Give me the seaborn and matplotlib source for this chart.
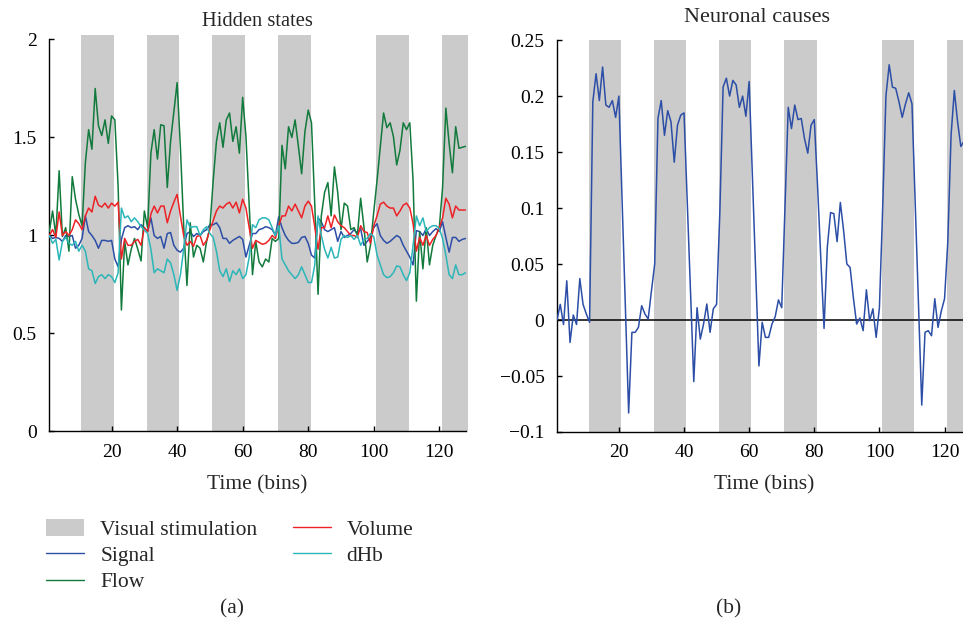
import numpy as np
import matplotlib
matplotlib.use("Agg")
import matplotlib.pyplot as plt
import seaborn as sns
from matplotlib.patches import Patch
from matplotlib.lines import Line2D

# ---------------- data ----------------
bins = np.arange(1, 129)

stim_bins = np.array(list(range(11, 21)) + list(range(31, 41)) + list(range(51, 61)) +
                     list(range(71, 81)) + list(range(101, 111)) + list(range(121, 129)))

flow = [1.02, 1.125, 1.0, 1.33, 0.995, 1.04, 0.92, 1.30, 1.185, 1.107,
        1.05, 1.37, 1.54, 1.44, 1.75, 1.56, 1.51, 1.59, 1.47, 1.61,
        1.59, 1.25, 0.62, 0.97, 0.85, 0.93, 0.985, 0.93, 0.87, 1.125,
        1.04, 1.42, 1.54, 1.39, 1.565, 1.56, 1.245, 1.48, 1.63, 1.78,
        1.45, 1.05, 0.745, 1.065, 0.89, 0.95, 0.935, 0.865, 0.97, 1.04,
        1.28, 1.48, 1.575, 1.45, 1.59, 1.625, 1.48, 1.555, 1.42, 1.705,
        1.505, 1.15, 0.80, 0.97, 0.865, 0.84, 0.88, 0.865, 0.985, 0.97,
        0.985, 1.46, 1.34, 1.555, 1.5, 1.59, 1.455, 1.315, 1.53, 1.64,
        1.575, 1.16, 0.70, 1.1, 1.22, 1.27, 1.1, 1.35, 1.22, 1.03,
        1.165, 1.15, 1.03, 1.04, 1.0, 1.19, 1.045, 0.865, 0.95, 1.12,
        1.28, 1.45, 1.625, 1.55, 1.575, 1.505, 1.36, 1.435, 1.575, 1.54,
        1.575, 1.28, 0.665, 1.02, 0.83, 1.04, 0.85, 0.95, 1.0, 1.04,
        1.245, 1.65, 1.47, 1.32, 1.555, 1.445, 1.45, 1.455]

volume = [1.0, 1.03, 0.99, 1.12, 1.0, 1.02, 1.0, 1.03, 1.08, 1.06,
          1.03, 1.1, 1.14, 1.12, 1.2, 1.155, 1.145, 1.165, 1.14, 1.165,
          1.15, 1.17, 0.88, 0.985, 0.95, 0.95, 0.97, 0.98, 0.95, 1.04,
          1.02, 1.11, 1.15, 1.115, 1.15, 1.15, 1.065, 1.125, 1.17, 1.21,
          1.1, 1.0, 0.95, 0.97, 0.945, 0.995, 1.0, 0.95, 0.975, 1.03,
          1.075, 1.125, 1.15, 1.14, 1.16, 1.17, 1.14, 1.17, 1.115, 1.185,
          1.14, 1.04, 0.935, 0.975, 0.965, 0.955, 0.96, 0.975, 1.0, 0.985,
          1.05, 1.1, 1.1, 1.15, 1.125, 1.16, 1.125, 1.09, 1.15, 1.175,
          1.15, 1.045, 0.93, 1.04, 1.04, 1.1, 1.04, 1.105, 1.07, 1.05,
          1.04, 1.02, 1.0, 1.0, 0.99, 1.05, 1.02, 1.015, 0.96, 1.05,
          1.1, 1.16, 1.17, 1.15, 1.14, 1.14, 1.1, 1.125, 1.155, 1.165,
          1.14, 1.06, 0.92, 0.99, 0.95, 1.0, 0.95, 0.98, 1.0, 1.04,
          1.09, 1.19, 1.16, 1.09, 1.15, 1.13, 1.13, 1.13]

signal = [1.0, 0.985, 0.99, 0.985, 0.97, 1.0, 0.995, 1.0, 0.935, 0.95,
          0.985, 1.1, 1.02, 1.0, 0.975, 0.935, 0.975, 0.975, 0.97, 0.975,
          0.88, 0.84, 0.98, 1.04, 1.05, 1.04, 1.045, 1.03, 1.055, 1.04,
          1.02, 1.09, 1.0, 0.985, 0.995, 0.935, 1.01, 1.015, 0.95, 0.925,
          0.915, 0.935, 1.01, 1.02, 0.995, 1.01, 1.0, 1.02, 1.03, 1.055,
          1.055, 1.065, 1.04, 0.985, 0.985, 0.96, 0.975, 0.985, 0.995, 0.98,
          0.89, 0.95, 1.01, 1.01, 1.03, 1.035, 1.045, 1.04, 1.03, 1.0,
          1.095, 1.04, 1.0, 0.975, 0.96, 0.96, 0.965, 0.99, 0.995, 0.96,
          0.9, 0.885, 1.09, 1.07, 1.03, 1.02, 1.03, 1.04, 0.97, 1.02,
          0.99, 1.0, 1.01, 1.03, 1.01, 1.035, 0.95, 0.97, 0.99, 1.04,
          1.06, 1.0, 0.975, 0.96, 0.97, 0.985, 1.0, 0.99, 0.95, 0.92,
          0.89, 0.85, 1.025, 1.02, 1.0, 1.035, 1.0, 1.02, 1.035, 1.02,
          1.07, 0.99, 0.915, 0.99, 0.99, 0.97, 0.98, 0.985]

dhb = [1.0, 0.96, 0.98, 0.875, 0.97, 0.99, 0.96, 0.95, 0.97, 0.92,
       0.95, 0.92, 0.83, 0.82, 0.755, 0.79, 0.8, 0.78, 0.8, 0.79,
       0.76, 0.81, 1.14, 1.09, 1.1, 1.07, 1.09, 1.07, 1.045, 1.03,
       1.01, 0.93, 0.81, 0.83, 0.82, 0.81, 0.88, 0.86, 0.8, 0.72,
       0.8, 0.93, 1.08, 1.04, 1.045, 1.045, 1.0, 1.03, 1.045, 1.01,
       0.99, 0.92, 0.82, 0.79, 0.83, 0.765, 0.82, 0.8, 0.83, 0.78,
       0.8, 0.89, 1.055, 1.04, 1.08, 1.09, 1.09, 1.08, 1.04, 1.0,
       1.05, 0.88, 0.85, 0.82, 0.8, 0.78, 0.8, 0.84, 0.8, 0.76,
       0.76, 0.85, 1.1, 1.0, 0.93, 0.885, 0.94, 0.885, 0.89, 0.98,
       1.0, 0.99, 1.0, 0.98, 1.0, 0.95, 0.98, 0.985, 1.01, 0.995,
       0.9, 0.85, 0.8, 0.785, 0.79, 0.81, 0.845, 0.84, 0.8, 0.77,
       0.81, 0.95, 1.1, 1.05, 1.09, 1.02, 1.04, 1.05, 1.05, 1.035,
       0.985, 0.9, 0.8, 0.78, 0.85, 0.8, 0.8, 0.81]

neuronal = [0.0, 0.014, -0.004, 0.035, -0.02, 0.0045, -0.004, 0.037, 0.014, 0.0054,
            -0.002, 0.195, 0.22, 0.196, 0.226, 0.192, 0.19, 0.196, 0.181, 0.2,
            0.106, 0.012, -0.083, -0.011, -0.011, -0.0066, 0.0128, 0.0054, 0.001, 0.026,
            0.05, 0.18, 0.196, 0.165, 0.187, 0.177, 0.141, 0.174, 0.183, 0.185,
            0.105, 0.025, -0.055, 0.011, -0.017, -0.0036, 0.0143, -0.011, 0.01, 0.014,
            0.096, 0.208, 0.216, 0.2, 0.214, 0.21, 0.19, 0.2, 0.182, 0.213,
            0.128, 0.044, -0.041, -0.002, -0.0155, -0.0155, -0.0036, 0.003, 0.018, 0.011,
            0.1, 0.19, 0.171, 0.192, 0.179, 0.18, 0.162, 0.149, 0.174, 0.179,
            0.12, 0.055, -0.0075, 0.065, 0.096, 0.095, 0.07, 0.105, 0.08, 0.05,
            0.047, 0.02, -0.0036, 0.0018, -0.0095, 0.027, -0.0006, 0.01, -0.0155, 0.011,
            0.1, 0.2, 0.228, 0.208, 0.207, 0.195, 0.181, 0.193, 0.203, 0.193,
            0.103, 0.014, -0.076, -0.011, -0.0095, -0.014, 0.019, -0.0066, 0.008, 0.019,
            0.07, 0.165, 0.205, 0.177, 0.155, 0.16, 0.18, 0.17]

xticks = [20, 40, 60, 80, 100, 120]
xticklabels = ["20", "40", "60", "80", "100", "120"]
left_yticks = [0, 0.5, 1, 1.5, 2]
left_yticklabels = ["0", "0.5", "1", "1.5", "2"]
right_yticks = [-0.1, -0.05, 0, 0.05, 0.1, 0.15, 0.2, 0.25]
right_yticklabels = ["\u22120.1", "\u22120.05", "0", "0.05", "0.1", "0.15", "0.2", "0.25"]

series_names = ["Signal", "Flow", "Volume", "dHb"]
series_colors = {"Signal": "#2c4ea6", "Flow": "#117a3c", "Volume": "#ee2226", "dHb": "#2bb6b8"}
stim_color = "#cbcbcb"

# ---------------- style ----------------
sns.set_theme(style="ticks")
plt.rcParams['font.family'] = ['Liberation Serif', 'DejaVu Serif']
plt.rcParams['axes.unicode_minus'] = True
FS_TICK = 14
FS_TEXT = 15.5

fig = plt.figure(figsize=(9.63, 6.23), dpi=100)
fig.patch.set_facecolor("white")

ax1 = fig.add_axes([0.0512, 0.3074, 0.4322, 0.6292])
ax2 = fig.add_axes([0.5784, 0.3066, 0.4295, 0.6290])

for ax, over in ((ax1, 1.012), (ax2, 1.0)):
    ax.bar(stim_bins - 0.3, over, width=1.0, align="edge", color=stim_color,
           linewidth=0, transform=ax.get_xaxis_transform(), clip_on=False, zorder=0)

series = {"Signal": signal, "Flow": flow, "Volume": volume, "dHb": dhb}
for name in series_names:
    sns.lineplot(x=bins, y=series[name], ax=ax1, color=series_colors[name],
                 linewidth=1.1, zorder=3)

sns.lineplot(x=bins, y=neuronal, ax=ax2, color="#2c4ea6", linewidth=1.1, zorder=3)
ax2.axhline(0, color="black", linewidth=1.1, zorder=2)

ax1.set_xlim(1, 128)
ax1.set_ylim(0, 2)
ax2.set_xlim(1, 128)
ax2.set_ylim(-0.1, 0.25)

ax1.set_yticks(left_yticks)
ax1.set_yticklabels(left_yticklabels)
ax2.set_yticks(right_yticks)
ax2.set_yticklabels(right_yticklabels)

for ax in (ax1, ax2):
    ax.set_xticks(xticks)
    ax.set_xticklabels(xticklabels)
    ax.set_facecolor("white")
    sns.despine(ax=ax)
    for s in ("left", "bottom"):
        ax.spines[s].set_linewidth(1.0)
        ax.spines[s].set_color("black")
    ax.tick_params(direction="in", length=3.5, width=1.0, colors="black",
                   labelsize=FS_TICK, pad=9)
    ax.set_xlabel("Time (bins)", fontsize=FS_TEXT, labelpad=10)
    ax.set_ylabel("")
    ax.grid(False)

ax1.set_title("Hidden states", fontsize=14.8, pad=10)
ax2.set_title("Neuronal causes", fontsize=16, pad=13, x=0.484)

handles = [Patch(facecolor=stim_color, edgecolor="none", label="Visual stimulation"),
           Line2D([], [], color=series_colors["Signal"], lw=1.0, label="Signal"),
           Line2D([], [], color=series_colors["Flow"], lw=1.0, label="Flow"),
           Line2D([], [], color=series_colors["Volume"], lw=1.0, label="Volume"),
           Line2D([], [], color=series_colors["dHb"], lw=1.0, label="dHb")]
fig.legend(handles=handles, ncol=2, frameon=False, fontsize=FS_TEXT,
           loc="upper left", bbox_to_anchor=(40 / 963, 1 - 513 / 623),
           handlelength=1.75, handleheight=0.8, handletextpad=0.75,
           columnspacing=1.65, labelspacing=0.25, borderaxespad=0, borderpad=0.3)

fig.text(232 / 963, 1 - 609 / 623, "(a)", fontsize=FS_TEXT, ha="center", va="center")
fig.text(729 / 963, 1 - 609 / 623, "(b)", fontsize=FS_TEXT, ha="center", va="center")

fig.savefig("out.png", dpi=100, facecolor="white")
